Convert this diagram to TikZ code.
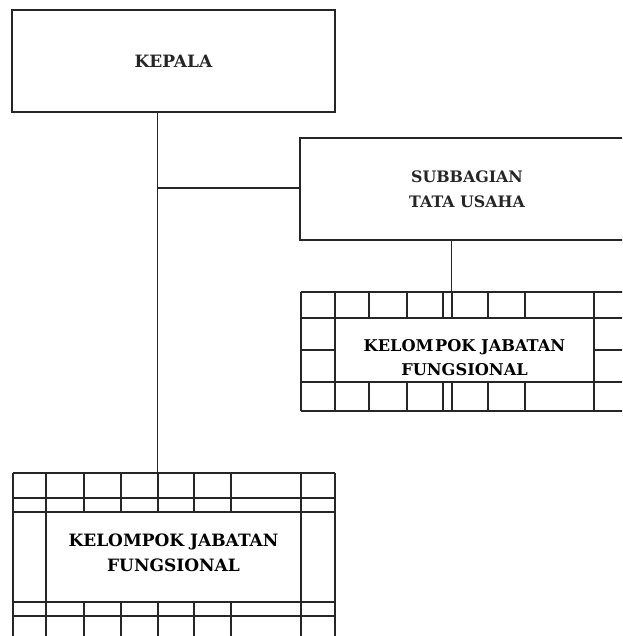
\documentclass[tikz,border=0pt]{standalone}
\usepackage{fontspec}
\setmainfont{DejaVu Serif}
\begin{document}
\begin{tikzpicture}[x=1pt,y=-1pt,
  ln/.style={line width=1.6pt,color=black!85},
  boxonly/.style={ln,draw,fill=white,inner sep=0pt},
  unitbox/.style={ln,draw,fill=white,inner sep=0pt,align=center,
    font=\fontsize{17}{27}\selectfont\bfseries},
  subbox/.style={ln,draw,inner sep=0pt,align=center,
    font=\fontsize{15.8}{25}\selectfont\bfseries},
  celltext/.style={inner sep=0pt,align=center,
    font=\fontsize{16.2}{23.5}\selectfont\bfseries},
  bigtext/.style={inner sep=0pt,align=center,
    font=\fontsize{17}{25}\selectfont\bfseries}]
\clip (0,0) rectangle (622,636);
\fill[white] (0,0) rectangle (622,636);
% KEPALA
\node[unitbox,minimum width=323pt,minimum height=102pt] (kepala) at (173.5,61) {KEPALA};
% SUBBAGIAN
\node[subbox,minimum width=334pt,minimum height=102pt] (subbag) at (467,189) {SUBBAGIAN\\TATA USAHA};
% Upper-right grid
\begin{scope}[ln]
  \draw (301,292) -- (640,292) (301,318) -- (640,318) (301,382) -- (640,382) (301,411) -- (640,411);
  \draw (301,350) -- (335,350) (594,350) -- (640,350);
  \draw (301,292) -- (301,411);
  \foreach \x in {335,369,407,443,452,488,525,594} {
    \draw (\x,292) -- (\x,318) (\x,382) -- (\x,411);
  }
\end{scope}
\node[boxonly,minimum width=259pt,minimum height=64pt] (jf1) at (464.5,350) {};
\node[celltext] (jf1text) at (464.5,357.5) {KELOM\hspace{1.5pt}POK JABATAN\\FUNGSIONAL};
% Lower-left grid
\begin{scope}[ln]
  \foreach \y in {473,498,512,602,616} { \draw (12.7,\y) -- (335,\y); }
  \draw (12.7,473) -- (12.7,650) (335,473) -- (335,650);
  \draw (46,473) -- (46,650) (301,473) -- (301,650);
  \foreach \x in {84,121,158,194,231} {
    \draw (\x,473) -- (\x,512) (\x,602) -- (\x,650);
  }
\end{scope}
\node[boxonly,minimum width=255pt,minimum height=90pt] (jf2) at (173.5,557) {};
\node[bigtext] (jf2text) at (173.5,553) {KELOMPOK JABATAN\\FUNGSIONAL};
% connectors
\coordinate (kdown) at (157.5,112);
\coordinate (jf2top) at (157.5,473);
\coordinate (branch) at (157.5,188);
\coordinate (sdown) at (451.5,240);
\coordinate (jf1top) at (451.5,292);
\draw[ln] (kdown) -- (jf2top);
\draw[ln] (branch) -- (branch -| subbag.west);
\draw[ln] (sdown) -- (jf1top);
\end{tikzpicture}
\end{document}
